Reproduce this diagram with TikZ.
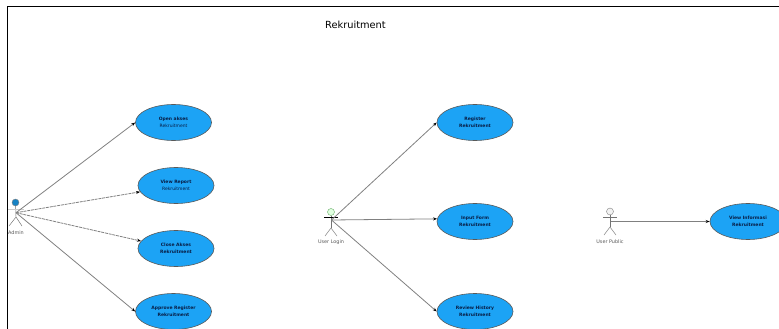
\documentclass[tikz,border=0pt]{standalone}
\usepackage{fontspec}
\setmainfont{DejaVu Sans}
\usetikzlibrary{arrows.meta,shapes.geometric}
\definecolor{usecaseblue}{RGB}{28,163,245}
\definecolor{usecasetext}{RGB}{8,30,70}
\tikzset{
  usecase/.style={draw=black!65,line width=.6pt,fill=usecaseblue,ellipse,minimum width=76pt,minimum height=36pt,inner sep=0pt,align=center,text=usecasetext,font=\fontsize{4.5}{6.5}\selectfont\bfseries},
  link/.style={draw=black!50,line width=.8pt,-{Stealth[length=4pt,width=3pt,black]}},
  linkdash/.style={link,dash pattern=on 3pt off .8pt},
  actorlabel/.style={font=\fontsize{4.9}{6}\selectfont,text=black!65,inner sep=0pt},
  limb/.style={draw=black!55,line width=.45pt}
}
\begin{document}
\begin{tikzpicture}[x=1pt,y=-1pt]
  \useasboundingbox (0,0) rectangle (779,329);
  \draw[line width=1.8pt] (7.5,329) -- (7.5,6.5) -- (779,6.5);
  \node (title) at (355.5,24.5) {\fontsize{9.8}{12}\selectfont Rekruitment};
  % admin
  \node[draw=black!50,fill=usecaseblue!80!black,circle,minimum size=7pt,inner sep=0pt] (adminhead) at (15.5,202.5) {};
  \coordinate (admin) at (16,212.7);
  \coordinate (adminhip) at (16,217);
  \draw[limb] (adminhead) -- (adminhip);
  \draw[limb,black!20] (8,209) -- (24,209);
  \draw[limb] (adminhip) -- (9,226) (adminhip) -- (22,226);
  \node[actorlabel] (adminname) at (16,232.5) {Admin};
  \node[usecase] (open) at (173.5,122.5) {Open akses\\\mdseries Rekruitment};
  \node[usecase] (report) at (176,185.5) {View Report\\\mdseries Rekruitment};
  \node[usecase] (close) at (176,248.5) {Close Akses\\Rekruitment};
  \node[usecase] (approve) at (173.5,311.5) {Approve Register\\Rekruitment};
  \draw[link] (admin) -- (open.west);
  \draw[linkdash] (admin) -- (report.190);
  \draw[linkdash] (admin) -- (close.168);
  \draw[link] (admin) -- (approve.west);
  % user login
  \node[draw=green!45!black!60,fill=green!12,circle,minimum size=7pt,inner sep=0pt] (loginhead) at (331,212) {};
  \coordinate (login) at (331.5,220);
  \coordinate (loginhip) at (331,228);
  \draw[limb] (loginhead) -- (loginhip);
  \draw[limb,line width=.8pt,black] (324,217.5) -- (338,217.5);
  \draw[limb] (loginhip) -- (325,236) (loginhip) -- (337,236);
  \node[actorlabel] (loginname) at (331,242) {User Login};
  \node[usecase] (register) at (475,122.5) {Register\\Rekruitment};
  \node[usecase] (input) at (475,221.5) {Input Form\\Rekruitment};
  \node[usecase] (history) at (475,311.5) {Review History\\Rekruitment};
  \draw[link] (login) -- (register.west);
  \draw[link] (login) -- (input.176);
  \draw[link] (login) -- (history.west);
  % user public
  \node[draw=black!50,fill=black!5,circle,minimum size=7pt,inner sep=0pt] (publichead) at (610,211.5) {};
  \coordinate (public) at (611,221.5);
  \coordinate (publichip) at (610,227);
  \draw[limb] (publichead) -- (publichip);
  \draw[limb,line width=.7pt] (603,217.5) -- (617,217.5);
  \draw[limb] (publichip) -- (604,235) (publichip) -- (616,235);
  \node[actorlabel] (publicname) at (610,241.5) {User Public};
  \node[usecase] (inform) at (748,221.5) {View Informasi\\Rekruitment};
  \draw[link] (public) -- (inform.west);
\end{tikzpicture}
\end{document}
